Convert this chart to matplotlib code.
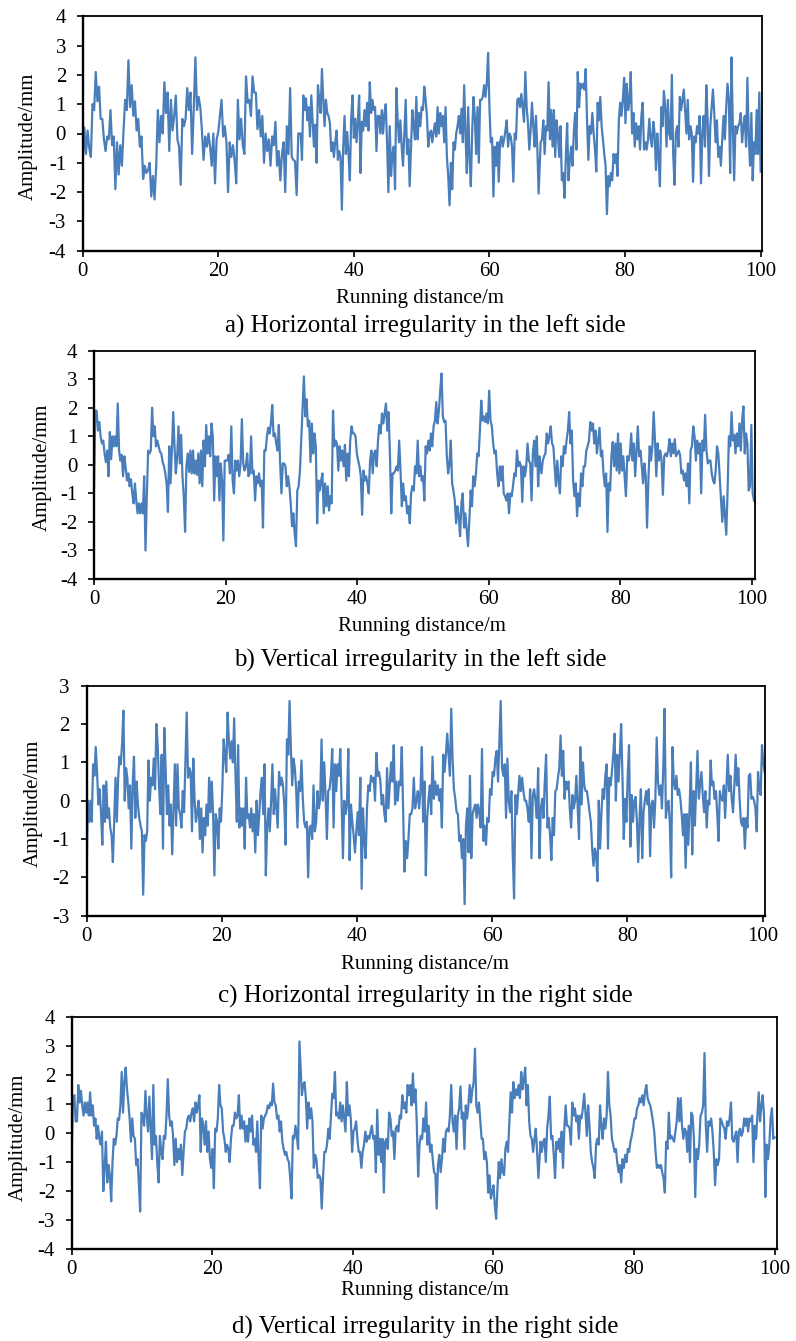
import numpy as np
import matplotlib

matplotlib.use("Agg")
import matplotlib.pyplot as plt

plt.rcParams["font.family"] = ["Liberation Serif", "DejaVu Serif"]
plt.rcParams["axes.unicode_minus"] = False

# amplitude readings (mm), three pieces per panel, each with its distance span (m)
A1 = [-1.0, 0.2, -0.7, 0.1, -0.5, -0.8, 1.0, 0.8, 2.1, 1.1, 1.6, 0.5, 0.5, -0.2, -0.6, -0.1, -0.2, 0.8, -0.4, -0.1,
      -1.9, -0.3, -1.4, -0.4, -1.1, 0.1, 1.15, 0.8, 2.5, 0.9, 1.65, 0.6, 1.1, 0.1, 0.5, -0.45, -0.1, -1.55, -1.1, -1.35,
      -1.25, -1.0, -2.15, -1.45, -2.25, -1.1, 0.8, -0.3, 0.6, 0.0, 1.75, 0.7, 1.4, -0.6, 1.15, 0.1, 0.6, 1.3, -0.2, -0.45,
      -1.75, 0.5, 0.25, 0.5, 1.55, 0.8, 1.4, -0.7, 0.85, 2.6, 0.8, 1.25, 0.9, 0.1, -0.9, -0.1, -0.45, 0.0, -0.45, -1.1,
      0.0, -1.7, -0.2, 0.05, 0.6, 1.15, -0.1, 0.25, -0.3, -2.0, -0.3, -0.8, -0.4, -0.9, -1.7, 1.15, -0.2, 0.5, -0.4, -0.7,
      1.95, 1.05, 1.15, 0.6, 1.95, 1.4, 1.4, 0.15, 0.8, -0.1, 0.6, -1.0, 0.0, -0.6, -0.2, -1.1, -0.1, -0.4, 0.4, -1.1,
      -0.6, -1.6, -0.7, -0.3, -2.0, 0.25, -0.7, 1.55, -0.8, -0.9, -0.95, -2.1, 0.0]
A2 = [0.0, -0.9, 1.3, 0.8, 1.2, 0.45, 0.9, -0.1, 1.3, 0.4, -0.45, 0.3, -1.0, 1.65, 1.15, 0.7, 2.2, 1.15, 0.25, 1.15,
      0.7, 0.6, 0.35, -0.6, -0.3, -0.8, -0.3, 0.1, -0.9, -0.6, -0.8, -2.6, -0.45, 0.6, -0.7, 0.05, -0.7, -1.6, 0.5, 1.3,
      -0.15, 0.5, -0.3, 0.45, 1.3, -1.35, 0.4, 0.1, 0.8, 0.25, 1.05, 0.1, 1.75, 0.7, 1.15, 0.8, 0.9, -0.6, 0.6, 0.6,
      0.0, 0.8, 0.0, 0.7, 1.0, -0.3, -2.0, 0.25, -1.45, -0.7, -0.45, -1.9, 1.55, 0.45, -0.3, 0.45, -0.45, -1.1, 0.0, 1.15,
      -0.7, -0.2, -1.8, -0.45, 0.8, 0.25, -0.2, 1.25, -0.2, 0.7, 0.25, 0.9, 0.8, 1.6, 1.15, 0.6, -0.45, 0.0, 0.1, -0.3,
      0.05, 0.35, -0.1, 0.9, 0.0, 0.7, 0.25, 0.6, -0.3, 0.9, -0.8, -1.45, -2.45, -1.0, -1.9, -0.3, -0.55, 0.0, 0.25, 0.6,
      0.0, 0.85, -0.3, 1.65, 0.0, -1.35, 0.9, -0.8, -1.8, 0.0, 1.25, 0.6, -0.7, 0.9, -1.0, 1.15, 1.15, 1.25, 1.65, 1.25,
      1.7, 2.75, 0.9, -0.3, -0.15, -2.15, -0.45, -1.1, -0.3, -1.65, -0.3, -0.1, -0.45, -0.2, 0.1, 0.45, -0.45, 0.0, -0.1,
      -0.45, -1.65, 0.0, -0.2, 1.15, 1.2, 0.9, 1.35, 0.9, 0.4, 2.1, 0.9, 0.35, -0.55, 0.1, 1.05, 0.25, -0.45, 0.6, -0.45,
      -2.05]
A3 = [-0.3, -0.2, 0.45, -0.7, 0.25, 0.1, 1.75, -0.2, 0.8, -0.45, 0.8, -0.8, 0.45, 0.0, -0.8, 0.25, -1.6, -1.35, -2.2,
      -0.8, 0.35, -1.6, -0.9, -0.45, -1.1, 0.0, 0.7, -0.55, 2.1, 0.9, 1.7, 1.55, 1.7, 1.5, 2.2, 0.45, -0.9, 0.25, 0.0,
      0.7, 0.0, -0.55, -1.3, 1.05, 0.45, 1.25, 0.25, -0.2, -0.7, -1.1, -2.75, -1.45, -1.8, -1.35, -1.6, -0.7, -1.0, -0.7,
      -1.45, 0.45, 1.05, 0.6, 1.15, 1.9, 0.35, 1.7, 0.8, 1.1, 2.1, 0.0, 0.7, -0.45, 0.35, -0.2, 0.25, -0.55, 0.6, 1.05,
      -0.55, -0.3, -0.55, -0.2, 0.5, -0.2, -0.45, 0.4, 0.0, -1.25, 0.0, -0.8, -1.8, 0.9, 0.25, 1.45, 0.9, -0.45, 1.15,
      0.0, -0.2, 2.0, -0.7, -1.75, 0.0, 0.25, -0.45, 1.25, 0.8, 1.15, 1.5, 0.8, 0.0, 1.15, -0.2, 0.25, 0.0, -1.65, -0.1,
      -0.3, 0.25, 0.0, 0.6, -1.7, 0.0, 0.6, -0.45, 1.65, 0.45, -1.45, 0.25, 0.9, 1.5, 0.7, -0.3, 0.45, -0.8, -0.45, -1.1,
      -0.2, 0.6, -0.2, 0.9, 1.7, 1.15, -1.35, 2.6, 0.25, -1.6, 0.25, 0.0, 0.25, 0.35, 0.7, -0.3, 0.25, 0.6, -0.45, 1.9,
      -0.1, -1.1, 0.7, -1.6, -0.3, -0.7, 0.8, -0.7, 1.4, -1.3]
A_SPANS = [(0.0, 31.8), (32.15, 67.25), (67.55, 100.0)]

B1 = [-0.8, 1.9, 1.9, 1.2, 1.5, 1.0, 0.75, 0.85, 0.4, 0.1, 0.5, -0.4, 1.15, 0.2, 1.0, 0.65, 1.0, 0.65, 2.15, 0.5,
      0.15, 0.35, -0.4, 0.3, -0.1, -0.55, -0.3, -0.75, -0.5, -1.0, -1.35, -0.65, -1.25, -1.7, -1.35, -1.7, -1.35, -1.7,
      -0.4, -3.0, -1.1, 0.5, 0.4, 0.5, 2.0, 1.0, 1.35, 0.65, 0.85, 0.65, 0.45, 0.4, 0.1, -0.05, -0.3, -0.65, -1.65, 0.65,
      -0.65, 0.5, 1.85, 0.65, -0.3, 0.3, 1.35, 0.05, 1.05, -0.4, -1.1, -2.35, -0.05, 0.4, -0.25, 0.5, -0.3, 0.5, -0.3,
      0.15, -0.35, 0.4, -0.65, 0.5, -0.75, 0.85, -0.05, 1.4, 0.4, 1.0, 0.3, 1.45, 1.0, -1.25, 0.3, -0.4, 0.3, -1.25, 0.05,
      -0.55, -2.65, 0.15, 0.15, 0.15, 0.35, -0.3, 1.35, -0.55, -1.0, 0.15, -0.2, 0.15, -0.4, 0.05, 1.6, 0.05, -0.2,
      -0.05, 0.4, -0.4, -0.3, 1.0, -0.3, -0.2, -1.25, -0.4, -0.65, -0.3, -0.75, -0.55, -2.2, 0.5, 0.5, 1.0, 1.3, 1.1,
      1.45, 2.1, 1.0, 1.1, 0.75, 0.5, 1.4, 0.05, -1.0, 0.05, 0.05, -0.05, -0.75, -0.4, -0.75, -1.35, -2.15, -1.7, -2.4,
      -2.85, -0.9, -0.75, -0.2]
B2 = [3.1, 1.7, 2.3, 1.35, 1.55, 0.1, 1.45, 0.4, 1.1, 0.65, -2.05, -0.55, -0.9, -0.55, -0.3, -1.7, -0.65, -1.45,
      -0.75, -1.6, -1.1, -1.35, 1.9, 0.65, 0.85, 0.75, -0.2, 0.65, 0.15, 0.5, -0.05, 0.7, -0.55, 0.4, -0.4, 0.85, 1.35,
      1.1, 1.1, 1.0, 0.4, 0.15, -0.05, -0.4, -1.75, -0.2, -0.55, -0.4, -0.65, -1.0, 0.15, 0.5, -0.3, 0.4, 0.5, -0.05,
      0.85, 1.4, 1.1, 1.8, 1.45, 1.8, 2.15, 1.2, 1.85, 0.4, -1.7, -0.3, -0.3, -0.2, -0.05, -0.2, 0.85, -0.2, -1.45, -0.65,
      -1.25, -1.1, -1.7, -1.45, -2.05, -1.0, -0.75, -0.9, -0.05, -0.3, 0.85, -0.4, -0.05, -0.55, -0.4, -1.25, 0.65, 0.4,
      0.85, 0.5, 1.1, 0.65, 1.35, 1.55, 2.2, 1.45, 1.9, 2.6, 3.2, 1.7, 1.5, 1.55, 0.3, -0.3, 0.05, 0.85, -0.65, -0.9,
      -1.25, -2.05, -1.45, -1.8, -2.5, -1.35, -1.0, -2.2, -1.7, -2.3, -2.85, -1.95, -0.9, -1.45, -0.4, -0.75, -0.3, 0.4,
      0.3, 1.2, 2.25, 1.55, 1.7, 1.5, 1.8, 1.45, 2.6, 1.55, 1.35, 0.75, 0.4, 0.5, -0.3, -0.75, -0.05, -0.55, -0.05, -1.0,
      -1.1, -1.25, -1.0, -1.7, -1.0, -1.1, -0.75, -0.3, -0.4, 0.5, -0.05, 0.1, -0.05, -1.3, -0.05, -0.4, -0.05, 0.75,
      0.15, 0.05, -1.25, 0.4, 0.85, -0.05, 1.0, -0.75, 0.3]
B3 = [0.05, -0.3, 0.15, 0.3, 0.4, 1.1, 0.75, 1.0, 1.35, 0.75, 0.65, -0.05, -0.75, 0.15, -0.55, -1.0, 0.3, -0.05, 0.65,
      0.4, 0.85, 1.2, 1.85, 0.75, 1.2, -0.55, -1.1, -0.65, -1.8, -1.0, -1.45, -0.3, -0.75, -0.05, -0.05, 0.5, 0.65, 0.85,
      1.5, 1.2, 1.45, 0.75, 1.2, 0.4, 0.85, 1.3, 0.3, 0.5, -0.3, -0.75, -0.3, -2.35, -0.65, -0.9, 0.3, 0.8, -0.05, 0.75,
      -0.2, 1.1, -0.3, 0.75, -0.2, 0.3, -0.4, -1.1, 0.3, 0.15, 0.4, 1.1, 0.15, 0.75, -0.4, 0.5, 1.35, 0.3, 0.5, -0.05,
      -0.65, 0.05, -0.4, -2.2, -0.55, 0.65, 0.15, 0.65, 1.85, 0.85, -0.4, 0.75, 0.15, 0.5, 0.15, -1.05, 0.3, 0.4, 0.3,
      0.5, 0.9, 0.3, 0.75, 0.4, 0.9, 0.3, 0.4, 0.5, 0.35, -0.3, -0.2, -0.55, -0.3, -0.75, 0.05, -1.35, 0.5, 0.65, 1.35,
      1.0, 0.15, 0.85, 0.4, 0.75, -1.0, 0.85, 0.5, 1.75, 0.5, 0.05, 0.15, 0.15, -0.3, -0.55, -0.65, -0.2, 0.65, 0.4,
      -0.4, -1.25, -2.0, -1.1, -1.8, -2.45, -0.9, 1.0, 0.65, 1.85, 0.85, 1.05, 0.4, 1.1, 0.65, 1.45, 0.5, 1.55, 2.05, 0.4,
      1.1, 0.75, -0.9, -0.75, 1.4, -1.0, -1.25]
B_SPANS = [(0.0, 31.3), (31.9, 67.7), (67.8, 100.3)]

C1 = [-2.1, 0.0, -0.55, 0.0, -0.55, 0.95, 0.65, 1.4, 0.75, -0.1, 0.3, -0.3, -1.15, 0.4, -0.55, 0.5, -0.45, -0.2,
      -0.7, -0.9, -1.6, -0.55, 0.6, -0.55, 0.6, 1.15, 0.95, 1.5, 2.35, 0.0, 0.85, 0.6, -0.2, 0.4, -1.25, 0.4, 1.15,
      -0.45, 0.5, -0.1, -0.45, -0.65, -0.8, -2.45, -0.9, -1.05, -0.8, 1.05, 0.0, 0.6, 0.4, 1.1, 0.3, 2.0, 1.45, 0.4,
      -0.35, 1.2, -1.25, 1.9, 0.85, -0.35, 0.4, -0.65, -0.1, -1.4, -0.2, 0.95, -0.65, 0.95, -0.2, -0.35, -0.7, 0.25,
      -0.3, 0.95, 2.3, 0.6, 0.85, 0.75, -0.8, 1.1, 0.0, -0.55, -0.3, 0.0, -1.0, -0.2, -1.35, -0.45, -0.9, -0.1, -0.65,
      0.6, -0.3, 0.5, -0.35, -1.95, -0.35, -0.55, -1.25, -0.2, -0.55, 0.3, 1.6, 1.2, 0.75, 2.3, 1.55, 1.1, 1.55, 1.0,
      2.15, 0.65, -0.55, 1.45, -0.7, -0.2, -0.65, -0.2, -1.25, 0.6, -0.45, -0.35, -0.7, -0.2, -0.8, -0.35, -1.35, 0.0,
      -0.9, -0.35, 0.25, 0.6, -0.35, 0.95, -1.95, -0.7, -0.2, -0.8, 0.0, 0.95, -0.35, 0.3, -0.2, -0.7, 0.75, 0.4, 0.6,
      0.4, -0.1, -1.15, 1.6, 1.2, 2.6, 1.35, 0.4, 1.1, 0.85, 0.3, -0.7, 0.5]
C2 = [0.25, 1.05, 0.05, -0.55, -0.7, -0.55, -2.0, -0.7, -0.65, -1.0, 0.4, -0.8, -0.55, 0.25, -0.2, 0.05, 1.6, 0.0,
      1.0, 0.15, -1.0, 0.25, 0.3, 0.65, 1.35, -0.7, 0.95, 0.25, 0.95, 0.65, 1.35, 0.0, -1.5, 0.0, -0.35, -0.1, 1.35,
      -1.55, -0.1, -0.55, -0.9, -1.35, -0.8, -0.3, -0.9, 0.6, -2.3, -0.2, -1.05, -1.5, -0.2, 0.4, 0.25, 0.65, 0.5, 0.6,
      0.0, 1.25, 0.65, 0.75, 0.5, -0.1, 0.15, -0.35, -0.55, 0.85, -0.2, 0.4, 1.0, 0.5, 1.45, -0.1, 0.5, 0.0, 0.5, 0.4,
      1.4, -0.2, -1.85, -1.05, -1.5, -1.0, -0.35, -0.35, -0.2, 0.6, -0.2, 0.0, 0.25, -0.2, 0.25, 1.4, -0.55, 0.5, -1.95,
      -0.45, 0.05, 0.4, -0.35, 1.15, 0.05, 0.5, 0.15, 0.4, 0.0, 0.3, -0.7, 1.2, 0.75, 1.2, 1.75, 1.2, 0.65, 2.4, 1.1,
      0.3, 0.05, -0.3, -0.35, -1.05, -0.9, -1.5, -1.0, -2.7, -0.65, -0.2, -1.35, 0.65, -1.5, -0.35, -0.2, -0.1, -0.45,
      -0.1, -0.3, -0.7, 1.35, -1.05, -0.65, -1.15, -0.45, -0.55, 0.3, 0.15, 0.75, 0.65, 1.1, 1.3, 0.5, 1.55, 2.6, 0.85,
      0.65, 0.95, -0.45, 1.1, 0.0, -0.3, 0.25, -1.4, -2.55, 0.15, -0.35, 0.15, 0.65, 0.25, 0.6, 0.25, 0.0, 0.0, -0.2,
      -0.55, 0.3, -1.5, 0.15, 0.3, 0.0, -0.45, 0.85, -1.5]
C3 = [-0.2, 0.05, -0.45, 0.5, 1.2, -0.7, -0.45, -0.9, -1.55, -0.45, -0.9, 0.25, 0.3, 0.6, 0.85, 1.7, 0.65, 1.3, 0.05,
      0.5, 0.3, 0.5, -0.2, -0.7, 0.15, -0.2, 0.0, 0.65, -0.2, -1.0, 1.4, -0.1, 1.0, 0.4, 0.25, 0.25, 0.0, -0.3, -0.55,
      -1.25, -1.7, -1.25, -1.4, -2.1, 0.0, -1.25, -0.35, 0.3, 0.05, 0.65, 0.95, -1.25, 0.6, 0.4, 0.75, 1.2, 1.75, 0.0,
      1.2, 0.5, 1.2, 2.0, 0.65, -1.0, 0.05, -0.55, 0.65, 1.45, -1.2, 0.15, -0.55, 0.0, 0.1, -0.55, -1.6, -0.45, 0.3, -1.5,
      -0.3, 0.0, 0.25, -0.1, 0.3, -1.45, -0.1, 0.0, -0.7, 0.05, 1.65, 0.5, 0.15, 0.4, -0.2, 0.85, 2.4, -0.45, -0.1, 0.0,
      -0.6, -2.0, 1.4, 0.5, 0.3, 0.65, 0.15, 0.3, 0.05, -0.35, -0.9, -0.35, -1.75, -0.35, -1.15, -0.2, 1.0, -1.4, 0.25,
      -0.65, 0.3, 1.3, 0.05, 0.4, 0.75, 0.15, -0.3, 0.25, -0.7, 0.0, -0.1, 1.05, 0.4, 0.5, 0.05, 0.25, -0.35, -1.05, 0.25,
      0.05, 0.0, 0.4, -0.45, 0.4, 1.2, 0.25, 0.65, 0.05, -0.3, 0.4, 1.2, 0.4, 0.85, 0.05, -0.55, -0.65, -0.45, -1.25,
      -0.45, -0.7, 0.65, 0.7, 0.05, 0.1, 0.0, -0.2, -0.8, 0.75, 0.3, 0.15, 1.45, 1.0, 0.75]
C_SPANS = [(0.0, 31.4), (31.6, 67.0), (67.2, 100.3)]

D1 = [-0.65, 1.2, 1.3, 0.4, 0.4, 1.65, 1.05, 1.45, 0.95, 0.6, 1.05, 0.7, 1.05, 0.6, 1.4, 0.6, 0.95, 0.25, 0.5, -0.2,
      0.25, -0.2, -0.4, 0.05, -2.0, -1.2, -0.3, -1.7, -1.1, -1.45, -2.35, -1.0, -0.2, -0.4, -0.1, 0.5, 0.45, 0.95, 2.1,
      0.7, 1.75, 2.25, 1.5, 1.05, 0.5, -0.3, 0.5, -0.1, -0.2, -1.1, -0.9, -1.7, -2.7, 0.7, 0.6, 0.25, 1.45, 0.6, 0.05,
      1.25, 0.15, -0.9, 1.65, -0.4, -0.1, -1.0, -1.7, -0.1, -0.65, -0.9, -0.1, -0.2, 0.6, 1.85, 0.6, 0.25, 0.4, -0.1,
      -1.1, -0.2, -1.0, -0.55, -0.9, -0.4, -1.45, -0.65, 0.05, 0.15, 0.5, 0.6, 0.4, 0.7, 0.85, 0.4, 1.05, 0.7, 0.95, 1.3,
      -0.65, 0.5, 0.25, -0.4, 0.4, -0.65, 0.05, -0.9, -1.2, -0.55, -1.9, 0.15, 0.05, 0.5, 1.65, 0.95, 0.85, 0.05, -0.2,
      -0.65, -0.4, -0.55, -1.0, -0.2, 0.25, 0.25, 0.7, 0.5, 0.6, 1.3, 0.15, 0.6, 0.15, 0.4, -0.3, 0.25, -0.3, 0.5, 0.05,
      0.6, -0.4, -0.2, -0.65, 0.4, -0.9, -1.9, 0.6, 0.15, 0.5, 0.6, 0.7, 0.95, 0.85, 1.05, 0.95, 1.7, 1.05, 0.95, 0.5,
      0.6, 0.05, 0.4, -0.3, -0.55, -0.75, -0.65, -0.9, -1.0, -1.55, -2.25, -0.1, -0.2, 0.25, -0.1, -0.55, 3.15]
D2 = [1.3, 1.65, 1.75, 1.2, 0.15, 1.05, 0.5, 0.85, 0.4, -1.2, -0.75, -0.9, -1.55, -1.45, -1.55, -2.6, -1.55, -0.65,
      -0.65, -0.4, 0.15, -0.2, 0.6, 1.35, 1.2, 2.1, 0.6, 0.7, 0.5, 1.05, 0.4, 0.95, 0.5, 0.05, 1.75, 0.6, 0.95, 0.5,
      -0.65, 0.05, 0.15, 0.4, -0.2, -0.65, -0.65, -1.2, -0.65, -0.4, 0.05, -0.3, -0.1, -0.2, 0.05, 0.25, -0.2, -0.1,
      -1.35, 0.8, -0.75, -0.2, -1.0, -0.2, -2.05, -0.3, -0.2, -0.55, 0.7, 0.5, -0.1, 0.05, -0.9, 0.15, 0.25, 0.05, 0.6,
      0.5, 1.3, 0.85, 1.05, 0.7, 1.65, 1.3, 1.65, 0.95, 2.05, 1.05, 1.5, 0.25, -1.5, -0.4, -0.1, -0.2, 0.5, 0.05, 1.05,
      -0.4, 0.25, -0.65, -0.4, -0.9, -1.35, -1.4, -2.6, -1.1, -0.75, -1.35, -0.9, -0.2, -0.65, 0.05, 0.15, 0.05, 0.6,
      1.65, 0.4, 0.05, 0.6, -0.55, 0.6, 0.85, 1.6, 0.5, 0.7, -0.55, 0.95, 0.5, 0.95, 1.65, 1.05, 1.5, 1.75, 2.9, 0.95,
      0.7, 1.05, 0.4, -0.2, -0.2, -0.9, -0.65, -1.0, -2.05, -1.45, -2.25, -2.05, -1.8, -2.5, -2.95, -1.9, -1.0, -1.55,
      -0.9, -1.35, -1.45, -0.55, -0.3, -0.65, 0.4, 1.4, 0.7, 1.75, 1.2, 1.5, 1.3, 1.65, 1.2, 2.1, 1.5, 1.85, 2.25, 0.95,
      1.65, 0.4, -0.1, -0.2, -0.65, -0.2, 0.15, -0.65, -1.55]
D3 = [-0.3, -0.65, -0.3, -0.2, -1.0, 0.15, 0.6, 1.25, -0.2, -0.1, -0.75, -1.55, -0.3, -0.55, -0.2, -0.65, 0.05, -1.2,
      0.15, 0.95, 0.25, 0.25, 0.15, -0.4, 1.05, 0.6, 0.85, 0.4, 0.6, -0.2, 0.6, 0.5, 0.85, 1.35, 0.7, -0.1, 0.95, 0.25,
      -0.65, -1.0, -1.2, -1.55, -0.4, -0.2, -0.4, 0.95, 0.25, -0.2, 0.5, 0.15, 0.6, 2.1, 0.95, 0.6, -0.2, -0.4, -0.65,
      -0.55, -1.0, -1.35, -1.1, -1.7, -0.9, -1.2, -0.75, -1.0, -0.55, -0.65, -0.3, -0.1, 0.15, 0.5, 0.5, 0.85, 0.95, 1.2,
      1.05, 1.3, 0.95, 1.4, 1.65, 1.2, 1.05, 0.95, 0.7, 0.4, 0.05, -0.65, -1.2, -1.1, -1.2, -1.1, -1.35, -1.55, -2.05,
      -0.3, -0.55, 0.7, -0.2, -0.1, -0.2, -0.3, 0.05, 0.4, 1.2, 0.4, 1.2, 0.25, -0.2, 0.15, 0.05, -0.65, 0.25, -1.0, 0.7,
      0.6, -0.2, -2.2, -0.55, -0.9, -0.4, 0.6, 0.7, 0.95, 2.75, 0.25, -0.65, 0.4, 0.25, 0.5, 0.05, -0.65, -1.8, -0.9,
      -1.1, -0.9, 0.5, 0.4, 0.25, 0.15, -0.2, 0.4, 0.25, 0.5, 1.05, -0.2, -0.3, -0.1, 0.05, -1.0, 0.05, 0.15, -0.1, 0.05,
      0.5, 0.25, 0.5, 0.05, 0.5, 0.4, 0.6, -1.0, 0.25, -0.2, 0.6, 1.4, 0.4, 0.95, 1.3, 0.6, -2.2, -0.4, -0.9, -0.4, 0.5,
      0.85, -0.2, -0.15]
D_SPANS = [(0.0, 32.4), (32.75, 66.4), (66.7, 100.0)]

CAPTIONS = [
    "a) Horizontal irregularity in the left side",
    "b) Vertical irregularity in the left side",
    "c) Horizontal irregularity in the right side",
    "d) Vertical irregularity in the right side",
]
XLABEL = "Running distance/m"
YLABEL = "Amplitude/mm"
XTICKS = [0, 20, 40, 60, 80, 100]

# layout in pixels of the 796x1341 reference
W, H = 796, 1341
PANELS = [
    # pieces, spans, ylim, (left, top, right, bottom), xmax, xlabel xy, caption xy, ylabel xy
    ((A1, A2, A3), A_SPANS, 4, (82.7, 16.3, 762, 250.7), 100.2, (420, 299), (425, 326), (28, 136)),
    ((B1, B2, B3), B_SPANS, 4, (94, 350.7, 755.3, 579), 100.5, (422, 627), (420, 660), (42, 467)),
    ((C1, C2, C3), C_SPANS, 3, (86.5, 685.7, 765.3, 915.7), 100.4, (425, 964), (425, 996), (33, 803)),
    ((D1, D2, D3), D_SPANS, 4, (71.7, 1016.7, 776.7, 1249.3), 100.3, (425, 1290), (425, 1327), (18, 1137)),
]

fig = plt.figure(figsize=(W / 100, H / 100), dpi=100)


def fx(px):
    return px / W


def fy(py):
    return 1 - py / H


for i, (pieces, spans, ylim, (l, t, r, b), xmax, xl, cap, yl) in enumerate(PANELS):
    ax = fig.add_axes([fx(l), fy(b), fx(r - l), (b - t) / H])
    x = np.concatenate([np.linspace(s, e, len(p)) for p, (s, e) in zip(pieces, spans)])
    y = np.concatenate([np.asarray(p, float) for p in pieces])
    ax.plot(x, y, color="#4a7ebb", lw=1.6)
    ax.set_xlim(0, xmax)
    ax.set_ylim(-ylim, ylim)
    ax.set_xticks(XTICKS)
    ax.set_yticks(range(-ylim, ylim + 1))
    ax.tick_params(direction="out", length=4, width=1.2, labelsize=15, colors="black")
    ax.tick_params(axis="x", pad=4)
    ax.tick_params(axis="y", pad=8)
    for side in ax.spines:
        ax.spines[side].set_linewidth(1.3)
    ax.spines["left"].set_linewidth(1.7)
    ax.spines["bottom"].set_linewidth(1.7)
    fig.text(fx(xl[0]), fy(xl[1]), XLABEL, ha="center", va="center", fontsize=15)
    fig.text(fx(cap[0]), fy(cap[1]), CAPTIONS[i], ha="center", va="center", fontsize=18)
    fig.text(fx(yl[0]), fy(yl[1]), YLABEL, ha="center", va="center", rotation=90, fontsize=15)

fig.savefig("out.png", dpi=100)
